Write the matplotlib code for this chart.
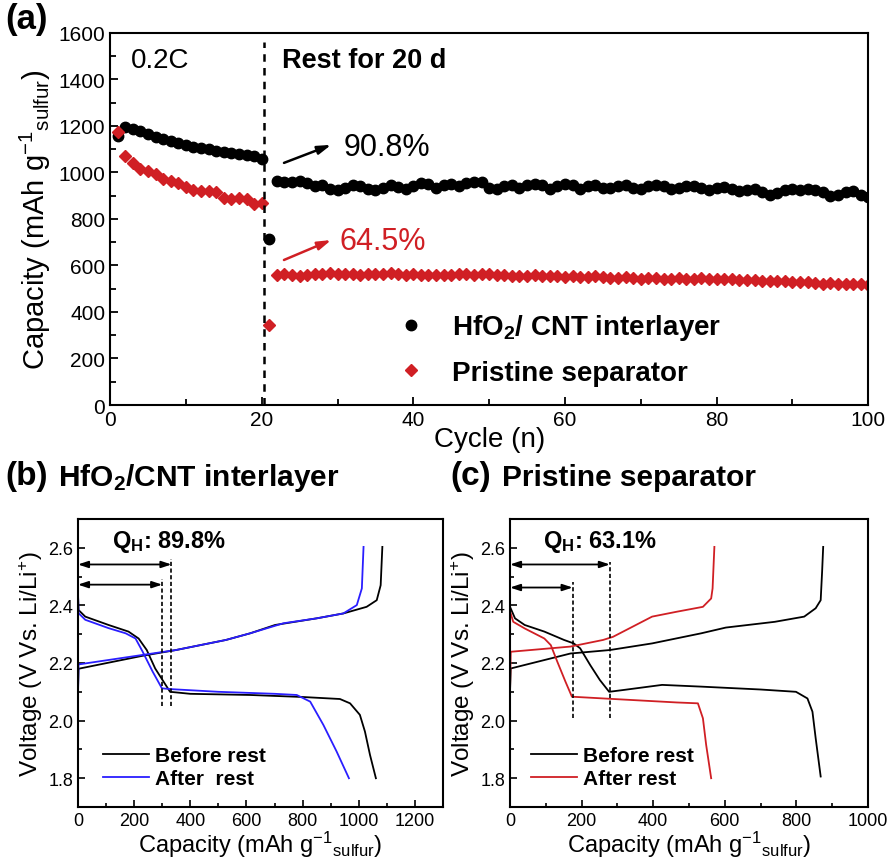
import matplotlib
matplotlib.use("Agg")
import matplotlib.pyplot as plt
from matplotlib.ticker import MultipleLocator
from matplotlib.lines import Line2D

plt.rcParams['font.family'] = ['Liberation Sans', 'DejaVu Sans']
plt.rcParams['mathtext.default'] = 'regular'

# ---------------- data: panel (a) ----------------
cycles = list(range(1, 101))
hfo2_capacity = [1156, 1194, 1185, 1178, 1165, 1152, 1143, 1135, 1126, 1118,
                 1111, 1105, 1099, 1094, 1089, 1085, 1080, 1075, 1069, 1058,
                 715,
                 962, 960, 958, 962, 955, 940, 945, 930, 925, 935,
                 945, 940, 930, 925, 935, 945, 938, 928, 940, 955,
                 950, 935, 945, 950, 940, 955, 960, 958, 935, 930,
                 940, 945, 935, 945, 950, 948, 930, 940, 950, 945,
                 930, 940, 945, 935, 932, 940, 945, 935, 930, 940,
                 945, 940, 930, 935, 940, 943, 935, 925, 935, 937,
                 928, 920, 925, 930, 915, 905, 912, 925, 927, 926,
                 927, 924, 915, 900, 905, 918, 920, 905, 893]
pristine_capacity = [1176, 1072, 1041, 1015, 1006, 993, 972, 965, 953, 936,
                     926, 922, 922, 915, 889, 886, 889, 886, 865, 869,
                     345,
                     560, 562, 558, 556, 560, 563, 565, 566, 563, 565,
                     564, 560, 562, 565, 563, 566, 562, 560, 563, 561,
                     560, 558, 560, 561, 563, 562, 560, 563, 562, 558,
                     560, 556, 553, 555, 557, 555, 556, 553, 550, 553,
                     552, 550, 553, 550, 545, 548, 550, 547, 544, 547,
                     545, 540, 543, 545, 542, 544, 545, 543, 541, 540,
                     543, 538, 536, 538, 535, 532, 535, 532, 530, 527,
                     530, 525, 522, 524, 520, 522, 519, 521, 518]
rest_cycle = 20.3
retention_hfo2 = "90.8%"
retention_pristine = "64.5%"

# ---------------- data: panel (b) ----------------
b_before_dis_cap = [0, 2, 26, 109, 180, 216, 245, 275, 305, 328, 400, 613, 800, 933, 969, 1004, 1022, 1040, 1061]
b_before_dis_v = [2.44, 2.384, 2.361, 2.332, 2.309, 2.285, 2.245, 2.181, 2.135, 2.10, 2.093, 2.089, 2.082, 2.075, 2.06, 2.02, 1.962, 1.881, 1.80]
b_before_chg_cap = [0, 2, 230, 349, 527, 613, 702, 850, 945, 1028, 1064, 1078, 1084]
b_before_chg_v = [2.10, 2.18, 2.225, 2.245, 2.28, 2.303, 2.332, 2.355, 2.372, 2.395, 2.418, 2.47, 2.603]
b_after_dis_cap = [0, 2, 26, 109, 170, 205, 230, 266, 299, 336, 500, 702, 779, 827, 874, 921, 965]
b_after_dis_v = [2.45, 2.373, 2.350, 2.321, 2.303, 2.285, 2.24, 2.17, 2.112, 2.109, 2.100, 2.093, 2.089, 2.066, 1.985, 1.893, 1.80]
b_after_chg_cap = [0, 2, 230, 349, 527, 613, 732, 850, 945, 993, 1011, 1017]
b_after_chg_v = [2.08, 2.195, 2.228, 2.245, 2.28, 2.303, 2.338, 2.355, 2.372, 2.401, 2.459, 2.603]
b_qh = "89.8%"
b_qh_before = 333
b_qh_after = 300

# ---------------- data: panel (c) ----------------
c_before_dis_cap = [0, 14, 41, 96, 151, 178, 196, 224, 251, 277, 315, 425, 534, 700, 799, 831, 845, 854, 868]
c_before_dis_v = [2.395, 2.355, 2.332, 2.309, 2.28, 2.268, 2.251, 2.193, 2.141, 2.10, 2.106, 2.124, 2.118, 2.108, 2.10, 2.077, 2.031, 1.939, 1.806]
c_before_chg_cap = [0, 2, 169, 279, 397, 534, 603, 740, 822, 854, 868, 872, 875]
c_before_chg_v = [2.10, 2.181, 2.233, 2.245, 2.268, 2.303, 2.323, 2.343, 2.361, 2.39, 2.418, 2.517, 2.603]
c_after_dis_cap = [0, 9, 41, 96, 114, 132, 155, 173, 260, 466, 525, 539, 548, 562]
c_after_dis_v = [2.38, 2.343, 2.32, 2.285, 2.262, 2.205, 2.135, 2.083, 2.077, 2.063, 2.06, 2.008, 1.916, 1.80]
c_after_chg_cap = [0, 2, 169, 260, 288, 397, 466, 539, 562, 566, 571]
c_after_chg_v = [2.10, 2.239, 2.257, 2.28, 2.291, 2.361, 2.378, 2.395, 2.424, 2.459, 2.603]
c_qh = "63.1%"
c_qh_before = 279
c_qh_after = 175

RED = '#d01f24'
BLUE = '#2a1eff'

fig = plt.figure(figsize=(8.91, 8.62), dpi=100)

# ---------------- panel (a) ----------------
ax = fig.add_axes([0.1235, 0.529, 0.851, 0.4316])
ax.plot(cycles, hfo2_capacity, 'o', color='black', markersize=7.5, linestyle='none')
ax.plot(cycles, pristine_capacity, 'D', color=RED, markersize=6.3, linestyle='none')
ax.axvline(rest_cycle, ymin=0, ymax=0.975, color='black', linestyle=(0, (3, 2.5)), linewidth=1.8)
ax.set_xlim(0, 100)
ax.set_ylim(0, 1600)
ax.xaxis.set_major_locator(MultipleLocator(20))
ax.xaxis.set_minor_locator(MultipleLocator(10))
ax.yaxis.set_major_locator(MultipleLocator(200))
ax.yaxis.set_minor_locator(MultipleLocator(100))
ax.tick_params(which='both', direction='in', labelsize=15, width=1.3)
ax.tick_params(which='major', length=6)
ax.tick_params(which='minor', length=4)
for s in ax.spines.values():
    s.set_linewidth(1.5)
ax.set_xlabel('Cycle (n)', fontsize=20, labelpad=-2)
ax.set_ylabel('Capacity (mAh g$^{-1}$$_{sulfur}$)', fontsize=21, labelpad=4)
ax.text(2.7, 1540, '0.2C', fontsize=20, va='top', ha='left')
ax.text(22.7, 1540, 'Rest for 20 d', fontsize=19.5, fontweight='bold', va='top', ha='left')
ax.annotate('', xy=(29.5, 1123), xytext=(22.6, 1037),
            arrowprops=dict(arrowstyle='-|>,head_length=0.8,head_width=0.25', color='black', lw=1.8))
ax.text(30.8, 1110, retention_hfo2, fontsize=22, va='center', ha='left')
ax.annotate('', xy=(29.5, 714), xytext=(22.6, 619),
            arrowprops=dict(arrowstyle='-|>,head_length=0.8,head_width=0.25', color=RED, lw=1.8))
ax.text(30.3, 705, retention_pristine, fontsize=22, va='center', ha='left', color=RED)
handles = [Line2D([], [], marker='o', color='black', linestyle='none', markersize=7.5),
           Line2D([], [], marker='D', color=RED, linestyle='none', markersize=6.3)]
ax.legend(handles, ['HfO$_2$/ CNT interlayer', 'Pristine separator'], loc='lower left',
          bbox_to_anchor=(0.36, 0.015), frameon=False, handlelength=1.0, handletextpad=1.0,
          labelspacing=0.62, borderpad=0, prop={'weight': 'bold', 'size': 20})
fig.text(0.006, 0.996, '(a)', fontsize=25, fontweight='bold', va='top', ha='left')


def style_voltage_axes(a, xmax):
    a.set_xlim(0, xmax)
    a.set_ylim(1.7, 2.7)
    a.xaxis.set_major_locator(MultipleLocator(200))
    a.xaxis.set_minor_locator(MultipleLocator(100))
    a.yaxis.set_major_locator(MultipleLocator(0.2))
    a.yaxis.set_minor_locator(MultipleLocator(0.1))
    a.tick_params(which='both', direction='in', labelsize=13, width=1.2)
    a.tick_params(which='major', length=5)
    a.tick_params(which='minor', length=3)
    for s in a.spines.values():
        s.set_linewidth(1.5)
    a.set_xlabel('Capacity (mAh g$^{-1}$$_{sulfur}$)', fontsize=17, labelpad=0)
    a.set_ylabel('Voltage (V Vs. Li/Li$^{+}$)', fontsize=17.5, labelpad=2)


ARROW = '<|-|>,head_length=0.6,head_width=0.2'

# ---------------- panel (b) ----------------
axb = fig.add_axes([0.0875, 0.0626, 0.4097, 0.3342])
axb.plot(b_before_dis_cap, b_before_dis_v, color='black', lw=1.3, label='Before rest')
axb.plot(b_before_chg_cap, b_before_chg_v, color='black', lw=1.3)
axb.plot(b_after_dis_cap, b_after_dis_v, color=BLUE, lw=1.3, label='After  rest')
axb.plot(b_after_chg_cap, b_after_chg_v, color=BLUE, lw=1.3)
axb.plot([b_qh_before, b_qh_before], [2.05, 2.56], color='black', lw=1.2, linestyle=(0, (2.5, 1.5)))
axb.plot([b_qh_after, b_qh_after], [2.05, 2.49], color='black', lw=1.2, linestyle=(0, (2.5, 1.5)))
style_voltage_axes(axb, 1300)
axb.annotate('', xy=(b_qh_before, 2.542), xytext=(0, 2.542),
             arrowprops=dict(arrowstyle=ARROW, color='black', lw=1.3, shrinkA=0, shrinkB=0))
axb.annotate('', xy=(b_qh_after, 2.472), xytext=(0, 2.472),
             arrowprops=dict(arrowstyle=ARROW, color='black', lw=1.3, shrinkA=0, shrinkB=0))
axb.text(120, 2.625, 'Q$_H$: ' + b_qh, fontsize=17, fontweight='bold', va='center', ha='left')
axb.legend(loc='lower left', bbox_to_anchor=(0.04, 0.03), frameon=False, handlelength=2.2,
           handletextpad=0.3, labelspacing=0.2, borderpad=0, prop={'weight': 'bold', 'size': 15})
fig.text(0.006, 0.447, '(b)', fontsize=24, fontweight='bold', va='center', ha='left')
fig.text(0.065, 0.445, 'HfO$_2$/CNT interlayer', fontsize=21.5, fontweight='bold', va='center', ha='left')

# ---------------- panel (c) ----------------
axc = fig.add_axes([0.5724, 0.0626, 0.4017, 0.3342])
axc.plot(c_before_dis_cap, c_before_dis_v, color='black', lw=1.3, label='Before rest')
axc.plot(c_before_chg_cap, c_before_chg_v, color='black', lw=1.3)
axc.plot(c_after_dis_cap, c_after_dis_v, color=RED, lw=1.3, label='After rest')
axc.plot(c_after_chg_cap, c_after_chg_v, color=RED, lw=1.3)
axc.plot([c_qh_before, c_qh_before], [2.01, 2.55], color='black', lw=1.2, linestyle=(0, (2.5, 1.5)))
axc.plot([c_qh_after, c_qh_after], [2.01, 2.48], color='black', lw=1.2, linestyle=(0, (2.5, 1.5)))
style_voltage_axes(axc, 1000)
axc.text(92, 2.625, 'Q$_H$: ' + c_qh, fontsize=17, fontweight='bold', va='center', ha='left')
axc.annotate('', xy=(c_qh_before, 2.542), xytext=(0, 2.542),
             arrowprops=dict(arrowstyle=ARROW, color='black', lw=1.3, shrinkA=0, shrinkB=0))
axc.annotate('', xy=(c_qh_after, 2.462), xytext=(0, 2.462),
             arrowprops=dict(arrowstyle=ARROW, color='black', lw=1.3, shrinkA=0, shrinkB=0))
axc.legend(loc='lower left', bbox_to_anchor=(0.03, 0.03), frameon=False, handlelength=2.2,
           handletextpad=0.3, labelspacing=0.2, borderpad=0, prop={'weight': 'bold', 'size': 15})
fig.text(0.505, 0.447, '(c)', fontsize=24, fontweight='bold', va='center', ha='left')
fig.text(0.563, 0.445, 'Pristine separator', fontsize=21.5, fontweight='bold', va='center', ha='left')

fig.savefig('out.png', dpi=100)
